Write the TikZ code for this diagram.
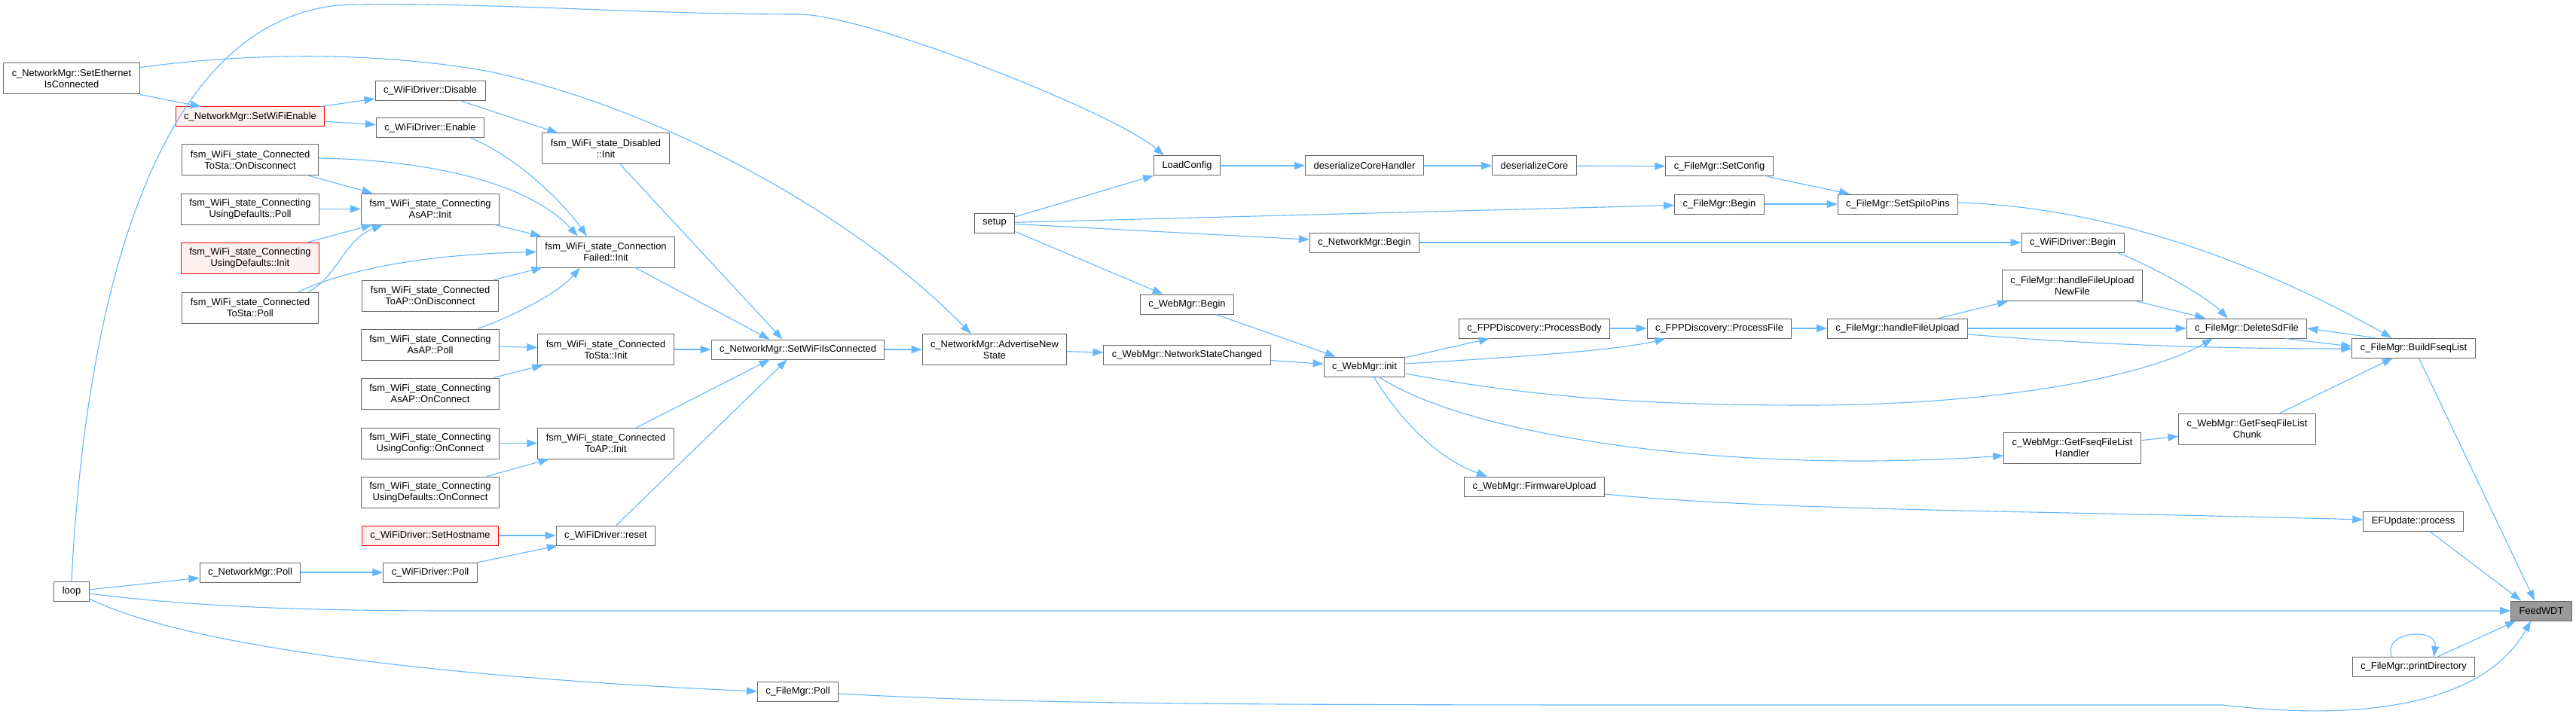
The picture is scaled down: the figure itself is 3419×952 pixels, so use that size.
\documentclass[tikz,border=0pt]{standalone}
\usepackage{fontspec}
\setmainfont{Liberation Sans}
\usetikzlibrary{arrows.meta,calc}
\definecolor{edgeblue}{HTML}{63B8FF}
\definecolor{boxline}{HTML}{666666}

\begin{document}
\begin{tikzpicture}[
  x=1pt, y=-1pt,
  fn/.style={draw=boxline, fill=white, line width=1pt, align=center, inner xsep=11pt, inner ysep=2pt,
    minimum height=26pt, font=\fontsize{12.9}{15}\selectfont},
  two/.style={minimum height=41pt},
  hot/.style={draw=red, fill=red!6},
  cur/.style={fill=black!40},
  call/.style={-{Triangle[length=14pt,width=10pt]}, line width=1.1pt, draw=edgeblue}
]
\useasboundingbox (0,0) rectangle (3419,952);
\fill[white] (0,0) rectangle (3419,952);

\node[fn, two] (ethc) at (95,104.5) {c\_NetworkMgr::SetEthernet\\IsConnected};
\node[fn, hot] (wifien) at (332,155) {c\_NetworkMgr::SetWiFiEnable};
\node[fn, two] (stadisc) at (332,212) {fsm\_WiFi\_state\_Connected\\ToSta::OnDisconnect};
\node[fn, two] (defpoll) at (332,277.5) {fsm\_WiFi\_state\_Connecting\\UsingDefaults::Poll};
\node[fn, two, hot] (definit) at (332,342.5) {fsm\_WiFi\_state\_Connecting\\UsingDefaults::Init};
\node[fn, two] (stapoll) at (332,408.5) {fsm\_WiFi\_state\_Connected\\ToSta::Poll};
\node[fn] (nmpoll) at (332,760) {c\_NetworkMgr::Poll};
\node[fn] (loop) at (95,785.5) {loop};

\node[fn] (wdisable) at (571,120.5) {c\_WiFiDriver::Disable};
\node[fn] (wenable) at (571,170) {c\_WiFiDriver::Enable};
\node[fn, two] (apinit) at (571,277.5) {fsm\_WiFi\_state\_Connecting\\AsAP::Init};
\node[fn, two] (apdisc) at (571,392.5) {fsm\_WiFi\_state\_Connected\\ToAP::OnDisconnect};
\node[fn, two] (appoll) at (571,457.5) {fsm\_WiFi\_state\_Connecting\\AsAP::Poll};
\node[fn, two] (aponconn) at (571,522.5) {fsm\_WiFi\_state\_Connecting\\AsAP::OnConnect};
\node[fn, two] (cfgconn) at (571,588.5) {fsm\_WiFi\_state\_Connecting\\UsingConfig::OnConnect};
\node[fn, two] (defconn) at (571,653.5) {fsm\_WiFi\_state\_Connecting\\UsingDefaults::OnConnect};
\node[fn, hot] (sethost) at (571,711) {c\_WiFiDriver::SetHostname};
\node[fn] (wpoll) at (571,760) {c\_WiFiDriver::Poll};

\node[fn, two] (disinit) at (804,197.5) {fsm\_WiFi\_state\_Disabled\\::Init};
\node[fn, two] (failinit) at (804,334.5) {fsm\_WiFi\_state\_Connection\\Failed::Init};
\node[fn, two] (stainit) at (804,464) {fsm\_WiFi\_state\_Connected\\ToSta::Init};
\node[fn, two] (toapinit) at (804,588.5) {fsm\_WiFi\_state\_Connected\\ToAP::Init};
\node[fn] (wreset) at (804,711) {c\_WiFiDriver::reset};

\node[fn] (wisconn) at (1059,464) {c\_NetworkMgr::SetWiFiIsConnected};
\node[fn] (fpoll) at (1059,918) {c\_FileMgr::Poll};
\node[fn, two] (advert) at (1320,464) {c\_NetworkMgr::AdvertiseNew\\State};
\node[fn] (setup) at (1320,296) {setup};

\node[fn] (loadcfg) at (1575.5,220) {LoadConfig};
\node[fn] (webbegin) at (1575.5,404) {c\_WebMgr::Begin};
\node[fn] (netchg) at (1575.5,471) {c\_WebMgr::NetworkStateChanged};
\node[fn] (deshandler) at (1811,220) {deserializeCoreHandler};
\node[fn] (netbegin) at (1811,322) {c\_NetworkMgr::Begin};
\node[fn] (webinit) at (1811,487) {c\_WebMgr::init};

\node[fn] (descore) at (2036.5,220) {deserializeCore};
\node[fn] (pbody) at (2036.5,436) {c\_FPPDiscovery::ProcessBody};
\node[fn] (fwupload) at (2036.5,646) {c\_WebMgr::FirmwareUpload};
\node[fn] (setcfg) at (2282,221) {c\_FileMgr::SetConfig};
\node[fn] (fbegin) at (2282,271) {c\_FileMgr::Begin};
\node[fn] (pfile) at (2282,436) {c\_FPPDiscovery::ProcessFile};
\node[fn] (spilo) at (2519,271) {c\_FileMgr::SetSpiIoPins};
\node[fn] (hupload) at (2518.5,436) {c\_FileMgr::handleFileUpload};

\node[fn] (wbegin) at (2751,322) {c\_WiFiDriver::Begin};
\node[fn, two] (hnewfile) at (2750.5,379) {c\_FileMgr::handleFileUpload\\NewFile};
\node[fn, two] (lhandler) at (2750.5,594.5) {c\_WebMgr::GetFseqFileList\\Handler};
\node[fn] (delsd) at (2982,436) {c\_FileMgr::DeleteSdFile};
\node[fn, two] (lchunk) at (2982.5,569.5) {c\_WebMgr::GetFseqFileList\\Chunk};
\node[fn] (buildfs) at (3203.5,462) {c\_FileMgr::BuildFseqList};
\node[fn] (efupd) at (3203,692) {EFUpdate::process};
\node[fn] (printdir) at (3203.5,885.5) {c\_FileMgr::printDirectory};
\node[fn, cur] (feedwdt) at (3373,811) {FeedWDT};

\draw[call] (loop.north) .. controls (112,420) and (200,10) .. (470,6)
  .. controls (650,3) and (850,19) .. (1060,19)
  .. controls (1150,19) and (1480,150) .. ($(loadcfg.north west)+(14,0)$);
\draw[call] ($(ethc.north east)+(0,6)$) .. controls (330,70) and (500,68) .. (650,95)
  .. controls (900,150) and (1150,300) .. ($(advert.north west)+(65,0)$);
\draw[call] (ethc.south east) -- ($(wifien.north west)+(34,0)$);
\draw[call] (wifien) -- (wdisable);
\draw[call] (wifien) -- (wenable);
\draw[call] (wdisable) -- (disinit);
\draw[call] ($(wenable.south east)+(-18,0)$) .. controls (680,205) and (745,265) .. ($(failinit.north west)+(67,0)$);

\draw[call] (stadisc) -- (apinit);
\draw[call] ($(stadisc.east)+(0,-2)$) .. controls (560,212) and (700,240) .. ($(failinit.north west)+(55,0)$);
\draw[call] (defpoll) -- (apinit);
\draw[call] (definit) -- (apinit);
\draw[call] ($(stapoll.north east)+(-13,0)$) .. controls (450,365) and (455,320) .. ($(apinit.south west)+(29,0)$);
\draw[call] ($(stapoll.north east)+(-27,0)$) .. controls (460,358) and (560,338) .. (failinit.west);
\draw[call] (apinit) -- (failinit);
\draw[call] (apdisc) -- (failinit);
\draw[call] ($(appoll.north east)+(-29,0)$) .. controls (680,420) and (740,390) .. ($(failinit.south west)+(58,0)$);
\draw[call] (appoll) -- (stainit);
\draw[call] (aponconn) -- (stainit);
\draw[call] (cfgconn) -- (toapinit);
\draw[call] (defconn) -- (toapinit);
\draw[call] (sethost) -- (wreset);
\draw[call] (wpoll) -- (wreset);
\draw[call] (nmpoll) -- (wpoll);
\draw[call] (loop) -- (nmpoll);
\draw[call] ($(loop.east)+(0,2.5)$) .. controls (250,805) and (400,811) .. (600,811) -- (feedwdt.west);
\draw[call] ($(loop.south east)+(0,-4)$) .. controls (250,860) and (600,900) .. (fpoll.west);

\draw[call] (disinit) -- ($(wisconn.north west)+(95,0)$);
\draw[call] (failinit) -- ($(wisconn.north west)+(78,0)$);
\draw[call] (stainit) -- (wisconn);
\draw[call] (toapinit) -- ($(wisconn.south west)+(78,0)$);
\draw[call] (wreset) -- ($(wisconn.south west)+(101,0)$);
\draw[call] (wisconn) -- (advert);
\draw[call] (advert) -- (netchg);

\draw[call] (setup) -- (loadcfg);
\draw[call] (setup) -- (fbegin);
\draw[call] (setup) -- (netbegin);
\draw[call] (setup) -- (webbegin);
\draw[call] (webbegin) -- (webinit);
\draw[call] (netchg) -- (webinit);
\draw[call] (loadcfg) -- (deshandler);
\draw[call] (deshandler) -- (descore);
\draw[call] (descore) -- (setcfg);
\draw[call] (setcfg) -- (spilo);
\draw[call] (fbegin) -- (spilo);
\draw[call] ($(spilo.east)+(0,-2)$) .. controls (2800,275) and (3000,350) .. ($(buildfs.north west)+(53,0)$);
\draw[call] (netbegin) -- (wbegin);
\draw[call] ($(wbegin.south east)+(-9,0)$) .. controls (2860,355) and (2930,395) .. ($(delsd.north west)+(55,0)$);

\draw[call] (webinit) -- (pbody);
\draw[call] ($(webinit.east)+(0,-4)$) .. controls (2000,475) and (2150,465) .. ($(pfile.south west)+(25,0)$);
\draw[call] ($(webinit.east)+(0,9)$) .. controls (2050,530) and (2200,538) .. (2400,538)
  .. controls (2650,538) and (2850,500) .. ($(delsd.south west)+(35,0)$);
\draw[call] ($(webinit.south east)+(-35,0)$) .. controls (1950,580) and (2300,630) .. ($(lhandler.west)+(0,10.5)$);
\draw[call] ($(webinit.south east)+(-42,0)$) .. controls (1860,560) and (1910,610) .. ($(fwupload.north west)+(31,0)$);
\draw[call] (pbody) -- (pfile);
\draw[call] (pfile) -- (hupload);
\draw[call] (hupload) -- (hnewfile);
\draw[call] (hupload) -- (delsd);
\draw[call] ($(hupload.east)+(0,8)$) .. controls (2750,455) and (2900,463) .. ($(buildfs.west)+(0,1)$);
\draw[call] (hnewfile) -- (delsd);
\draw[call] (lhandler) -- (lchunk);
\draw[call] (lchunk) -- (buildfs);
\draw[call] ($(delsd.south east)+(-29,0)$) -- ($(buildfs.west)+(0,-2)$);
\draw[call] ($(buildfs.north west)+(31,0)$) -- (delsd.east);

\draw[call] ($(buildfs.south)+(7,0)$) -- ($(feedwdt.north west)+(32,0)$);
\draw[call] ($(fwupload.east)+(0,10)$) .. controls (2350,678) and (2700,678) .. ($(efupd.west)+(0,-2)$);
\draw[call] ($(efupd.south east)+(-45,0)$) -- ($(feedwdt.north west)+(14,0)$);
\draw[call] ($(printdir.north east)+(-50,0)$) -- ($(feedwdt.south west)+(7,0)$);
\draw[call] ($(printdir.north west)+(53,0)$) .. controls (3160,838) and (3236,832) .. ($(printdir.north east)+(-55,0)$);
\draw[call] ($(fpoll.east)+(0,3)$) .. controls (1350,934) and (1600,936) .. (2200,936) -- (2950,936)
  .. controls (3150,960) and (3300,930) .. ($(feedwdt.south west)+(27,0)$);

\end{tikzpicture}
\end{document}
